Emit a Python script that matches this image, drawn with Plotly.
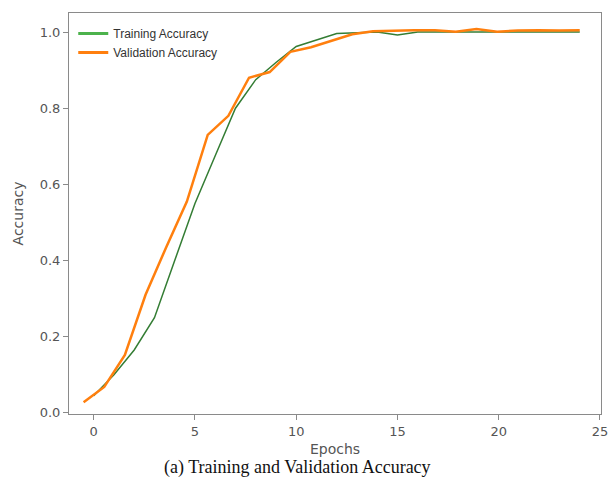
import plotly.graph_objects as go

train_epochs = [0, 1, 2, 3, 4, 5, 6, 7, 8, 9, 10, 11, 12, 13, 14, 15, 16, 17, 18, 19, 20, 21, 22, 23, 24]
train_acc = [0.045, 0.10, 0.165, 0.25, 0.40, 0.55, 0.675, 0.80, 0.875, 0.92, 0.962, 0.978, 0.996, 0.998,
             1.0, 0.992, 1.0, 1.0, 1.0, 1.0, 1.0, 1.0, 1.0, 1.0, 1.0]

val_epochs = [-0.5, 0.52, 1.54, 2.56, 3.58, 4.6, 5.63, 6.65, 7.67, 8.69, 9.71, 10.73, 11.75, 12.77,
              13.79, 14.81, 15.83, 16.85, 17.88, 18.9, 19.92, 20.94, 21.96, 22.98, 24.0]
val_acc = [0.028, 0.068, 0.152, 0.31, 0.435, 0.555, 0.73, 0.78, 0.88, 0.895, 0.948, 0.96, 0.977, 0.994,
           1.002, 1.004, 1.005, 1.005, 1.001, 1.008, 1.001, 1.004, 1.005, 1.004, 1.005]

x_ticks = [0, 5, 10, 15, 20, 25]
y_ticks = [0.0, 0.2, 0.4, 0.6, 0.8, 1.0]
y_tick_labels = ["0.0", "0.2", "0.4", "0.6", "0.8", "1.0"]

GREEN_LINE = "#347d34"
GREEN_LEG = "#4cb24c"
ORANGE = "#ff7f0e"

fig = go.Figure()
fig.add_trace(go.Scatter(x=train_epochs, y=train_acc, mode="lines",
                         line=dict(color=GREEN_LINE, width=1.5), showlegend=False))
fig.add_trace(go.Scatter(x=val_epochs, y=val_acc, mode="lines",
                         line=dict(color=ORANGE, width=2.5), showlegend=False))
# legend entries
fig.add_trace(go.Scatter(x=[None], y=[None], mode="lines", name="Training Accuracy",
                         line=dict(color=GREEN_LEG, width=3)))
fig.add_trace(go.Scatter(x=[None], y=[None], mode="lines", name="Validation Accuracy",
                         line=dict(color=ORANGE, width=3)))

axis_common = dict(showline=True, linecolor="#8a8a8a", linewidth=1, mirror=True,
                   showgrid=False, zeroline=False, ticks="outside", ticklen=5,
                   tickcolor="#8a8a8a", tickfont=dict(family="DejaVu Sans", size=13, color="#555555"))

fig.update_layout(
    width=609, height=478,
    margin=dict(l=69, r=1, t=13, b=64),
    paper_bgcolor="white", plot_bgcolor="white",
    xaxis=dict(range=[-1.22, 25.05], tickvals=x_ticks, ticklabeloverflow="allow",
               title=dict(text="Epochs", font=dict(family="DejaVu Sans", size=14, color="#555555"),
                          standoff=6),
               **axis_common),
    yaxis=dict(range=[-0.003, 1.05], tickvals=y_ticks, ticktext=y_tick_labels,
               title=dict(text="Accuracy", font=dict(family="DejaVu Sans", size=14, color="#555555"),
                          standoff=12),
               **axis_common),
    legend=dict(x=0.008, y=0.985, xanchor="left", yanchor="top", bgcolor="rgba(255,255,255,0.8)",
                font=dict(family="Liberation Sans", size=12, color="#333333"),
                tracegroupgap=0, itemwidth=30),
    showlegend=True,
)

fig.add_annotation(text="(a) Training and Validation Accuracy", xref="paper", yref="paper",
                   x=0.43, y=0, yshift=-66, yanchor="bottom", showarrow=False,
                   font=dict(family="Liberation Serif", size=18, color="#111111"))

css = ("document.documentElement.style.margin='0';document.documentElement.style.padding='0';"
       "document.body.style.margin='0';document.body.style.padding='0';"
       "document.documentElement.style.overflow='hidden';document.body.style.overflow='hidden';"
       "var d=document.getElementById('{plot_id}');d.style.position='absolute';d.style.left='0';d.style.top='0';")

fig.write_html("out.html", config={"displayModeBar": False, "responsive": False}, post_script=css)
